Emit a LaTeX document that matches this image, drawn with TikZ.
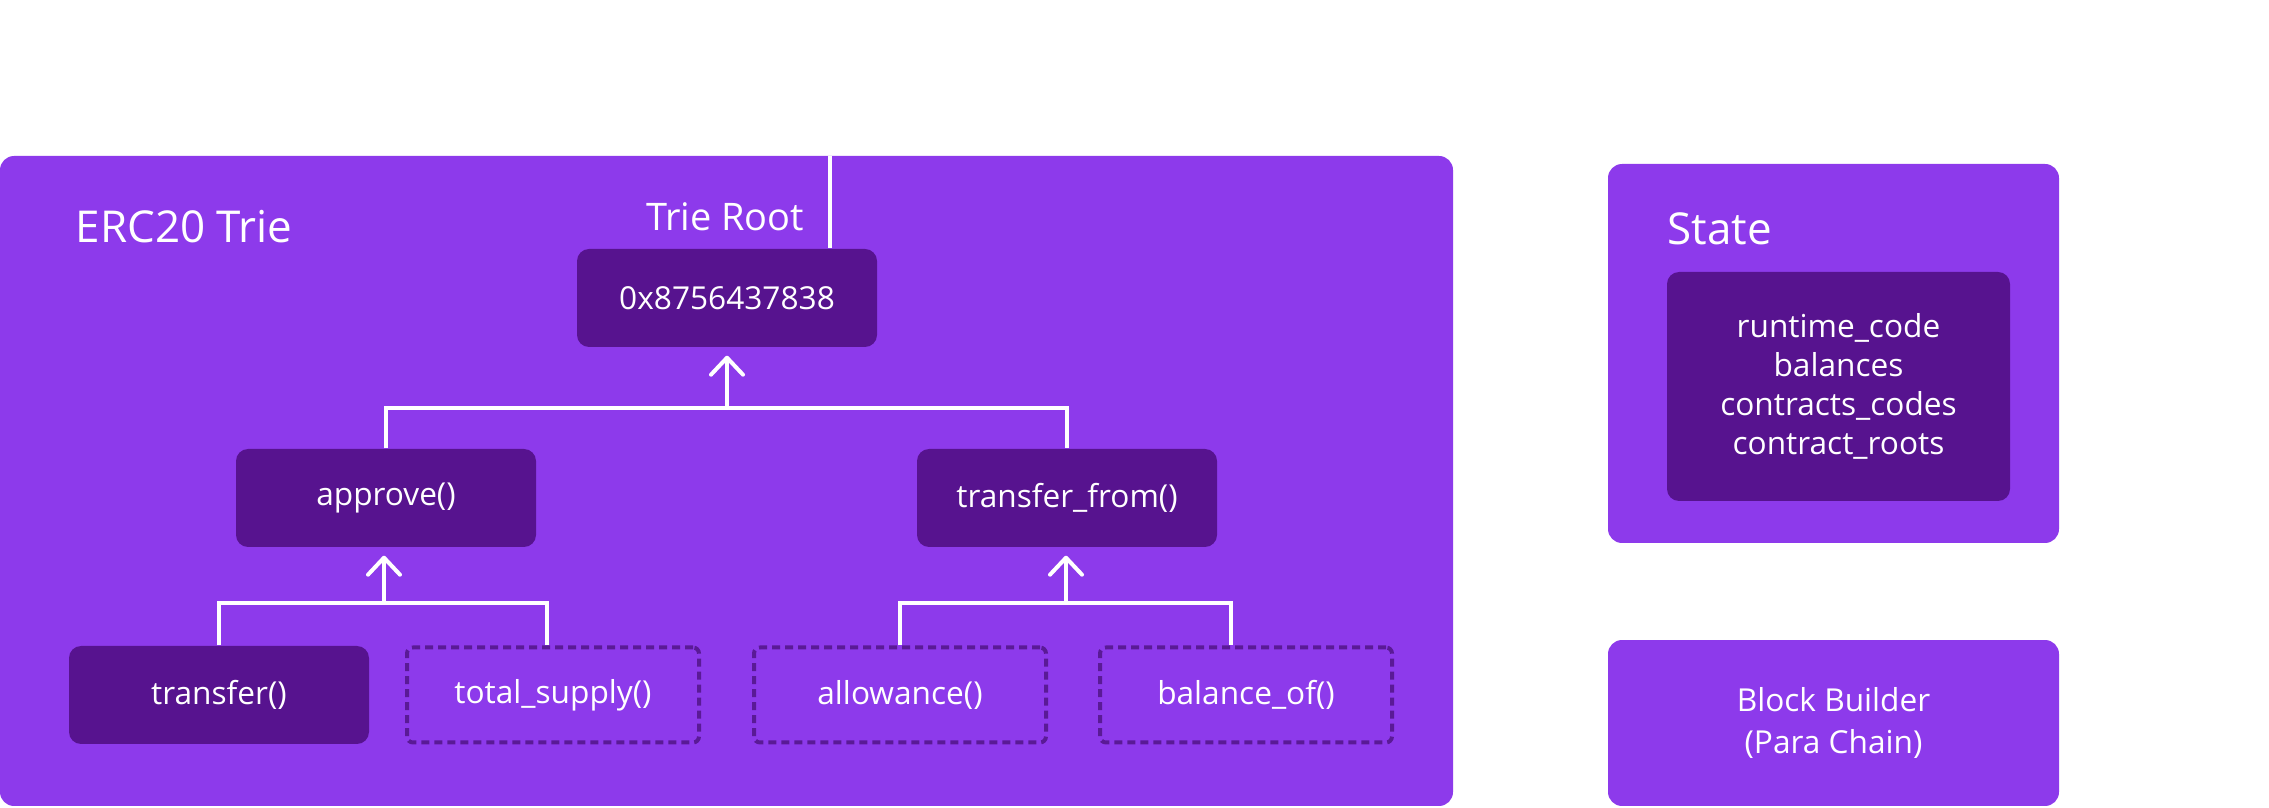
\documentclass[tikz,border=0pt]{standalone}
\usepackage{fontspec}
\setmainfont{Open Sans}
\usetikzlibrary{arrows.meta}
\definecolor{trieviolet}{HTML}{8D3AEB}
\definecolor{triedeep}{HTML}{57138F}
\definecolor{triedash}{HTML}{5A1A96}

\begin{document}
\begin{tikzpicture}[x=0.1mm,y=-0.1mm,
  panel/.style={fill=trieviolet,rounded corners=1.4mm,inner sep=0pt},
  fn/.style={fill=triedeep,rounded corners=1.2mm,minimum width=30mm,minimum height=9.8mm,
    text=white,font=\fontsize{9}{11}\selectfont,inner sep=0pt},
  ghost/.style={fn,fill=none,draw=triedash,line width=0.4mm,dash pattern=on 0.8mm off 0.5mm,
    rounded corners=0.6mm,minimum width=29.2mm,minimum height=9.5mm},
  heading/.style={text=white,font=\fontsize{12.5}{15}\selectfont,inner sep=0pt},
  wire/.style={draw=white,line width=0.4mm},
  up/.style={wire,-{Straight Barb[length=1.7mm,width=3.2mm,round]},shorten >=0.8mm}]
        \useasboundingbox (0,0) rectangle (2269,808);
        %% panels
        \node (trie)    [panel,minimum width=145.3mm,minimum height=65mm] at (726.5,481) {};
        \node (state)   [panel,minimum width=45.1mm,minimum height=37.9mm] at (1833.5,353.5) {};
        \node (builder) [panel,minimum width=45.1mm,minimum height=16.6mm,text=white,align=center,
          font=\fontsize{9}{11.7}\selectfont] at (1833.5,723) {Block Builder\\(Para Chain)};
        \node (erc)     [heading,anchor=west] at (75,227) {ERC20 Trie};
        \node (stlabel) [heading,anchor=west] at (1667,229) {State};
        \node (fields)  [fn,minimum width=34.3mm,minimum height=22.9mm,align=center,
          font=\fontsize{9}{11.1}\selectfont] at (1838.5,386.5)
          {runtime\_code\\balances\\contracts\_codes\\contract\_roots};
        %% the trie
        \node (rootlbl)  [heading,font=\fontsize{10.8}{13}\selectfont,anchor=east] at (805,217) {Trie Root};
        \node (hash)     [fn] at (727,298) {0x8756437838};
        \node (approve)  [fn] at (386,498) {approve()};
        \node (tfrom)    [fn] at (1067,498) {transfer\_from()};
        \node (transfer) [fn] at (219,695) {transfer()};
        \node (supply)   [ghost] at (553,695) {total\_supply()};
        \node (allow)    [ghost] at (900,695) {allowance()};
        \node (balance)  [ghost] at (1246,695) {balance\_of()};
        \coordinate (roottop) at (830,156);
        \coordinate (j0) at (727,408);
        \coordinate (j1) at (384,603);
        \coordinate (j2) at (1066,603);
        \draw[wire] (roottop) -- (roottop |- hash.north);
        \draw[wire] (approve.north) |- (j0) -| (tfrom.north);
        \draw[up] (j0) -- (hash.south);
        \draw[wire] (transfer.north) |- (j1) -| ([xshift=-0.6mm]supply.north);
        \draw[up] (j1) -- (j1 |- approve.south);
        \draw[wire] (allow.north) |- (j2) -| ([xshift=-1.5mm]balance.north);
        \draw[up] (j2) -- (j2 |- tfrom.south);
\end{tikzpicture}
\end{document}
